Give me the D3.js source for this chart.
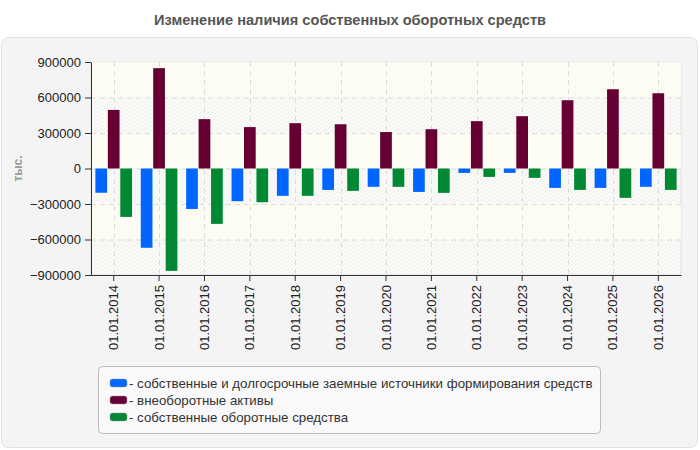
<!DOCTYPE html>
<html>
<head>
<meta charset="utf-8">
<script src="https://cdn.jsdelivr.net/npm/d3@7"></script>
<style>
  body { margin: 0; background: #fff; font-family: Arial, "Liberation Sans", sans-serif; }
  svg { display: block; }
</style>
</head>
<body>
<svg id="chart" width="700" height="450"></svg>
<script>
// data
var dates = ["01.01.2014", "01.01.2015", "01.01.2016", "01.01.2017", "01.01.2018", "01.01.2019", "01.01.2020",
    "01.01.2021", "01.01.2022", "01.01.2023", "01.01.2024", "01.01.2025", "01.01.2026"];
var sourcesVals = [-205000, -670000, -342000, -276000, -231000, -181000, -155000, -198000, -37000, -37000, -164000, -164000, -155000];
var fixedAssetsVals = [495000, 848000, 417000, 350000, 383000, 374000, 308000, 332000, 400000, 442000, 577000, 670000, 636000];
var workingCapVals = [-409000, -865000, -468000, -285000, -231000, -189000, -155000, -206000, -71000, -79000, -181000, -248000, -181000];
var seriesNames = ["- собственные и долгосрочные заемные источники формирования средств", "- внеоборотные активы", "- собственные оборотные средства"];
var yTicks = [900000, 600000, 300000, 0, -300000, -600000, -900000];

var colors = ["#0066ff", "#660033", "#008833"];
var series = [sourcesVals, fixedAssetsVals, workingCapVals];

var svg = d3.select("#chart");

// panel
svg.append("rect")
    .attr("x", 1.5).attr("y", 37.5)
    .attr("width", 696).attr("height", 410)
    .attr("rx", 7)
    .attr("fill", "#f4f4f4")
    .attr("stroke", "#e2e2e2");

// title
svg.append("text")
    .attr("x", 350).attr("y", 25)
    .attr("text-anchor", "middle")
    .attr("font-size", "14.6px")
    .attr("font-weight", "bold")
    .attr("fill", "#555")
    .text("Изменение наличия собственных оборотных средств");

var margin = {top: 62, left: 91};
var width = 590, height = 213;

var g = svg.append("g").attr("transform", "translate(" + margin.left + "," + margin.top + ")");

var x = d3.scaleBand().domain(dates).range([0, width]).paddingInner(0.16).paddingOuter(0.08);
var xs = d3.scaleBand().domain([0, 1, 2]).range([0, x.bandwidth()]).padding(0.06);
var y = d3.scaleLinear().domain([-900000, 900000]).range([height, 0]);

// hatched background
var defs = svg.append("defs");
var pat = defs.append("pattern")
    .attr("id", "hatch")
    .attr("patternUnits", "userSpaceOnUse")
    .attr("width", 4).attr("height", 4);
pat.append("rect").attr("width", 4).attr("height", 4).attr("fill", "#fbfbf8");
pat.append("path").attr("d", "M-1,1 l2,-2 M0,4 l4,-4 M3,5 l2,-2")
    .attr("stroke", "#ececec").attr("stroke-width", 1);

g.append("rect")
    .attr("width", width).attr("height", height)
    .attr("fill", "url(#hatch)")
    .attr("stroke", "#e0e0e0");

// alternating cream bands
for (var i = 0; i < yTicks.length - 1; i += 2) {
    g.append("rect")
        .attr("x", 0).attr("y", y(yTicks[i]))
        .attr("width", width).attr("height", y(yTicks[i + 1]) - y(yTicks[i]))
        .attr("fill", "#fdfdf3")
        .attr("opacity", 0.85);
}

// grid
g.selectAll(".hgrid").data(yTicks.slice(1, -1)).enter().append("line")
    .attr("x1", 0).attr("x2", width)
    .attr("y1", function(d) { return y(d) + 0.5; })
    .attr("y2", function(d) { return y(d) + 0.5; })
    .attr("stroke", "#dcdcdc")
    .attr("stroke-dasharray", "5,4");

g.selectAll(".vgrid").data(dates).enter().append("line")
    .attr("x1", function(d) { return Math.round(x(d) + x.bandwidth() / 2) + 0.5; })
    .attr("x2", function(d) { return Math.round(x(d) + x.bandwidth() / 2) + 0.5; })
    .attr("y1", 0).attr("y2", height)
    .attr("stroke", "#dcdcdc")
    .attr("stroke-dasharray", "5,4");

// bars
series.forEach(function(vals, si) {
    g.selectAll(".bar-" + si).data(vals).enter().append("rect")
        .attr("x", function(d, i) { return x(dates[i]) + xs(si); })
        .attr("width", xs.bandwidth())
        .attr("y", function(d) { return y(Math.max(0, d)); })
        .attr("height", function(d) { return Math.abs(y(d) - y(0)); })
        .attr("fill", colors[si]);
});

// axes
var yAxis = g.append("g")
    .call(d3.axisLeft(y).tickValues(yTicks).tickSize(6).tickSizeOuter(0).tickFormat(d3.format("d")));
yAxis.select(".domain").attr("stroke", "#333");
yAxis.selectAll(".tick line").attr("stroke", "#333");
yAxis.selectAll("text")
    .attr("font-size", "13px")
    .attr("font-family", "Arial, 'Liberation Sans', sans-serif")
    .attr("fill", "#222")
    .attr("x", -10);

var xAxis = g.append("g")
    .attr("transform", "translate(0," + height + ")")
    .call(d3.axisBottom(x).tickSize(6).tickSizeOuter(0));
xAxis.select(".domain").attr("stroke", "#333");
xAxis.selectAll(".tick line").attr("stroke", "#333");
xAxis.selectAll("text")
    .attr("font-size", "13px")
    .attr("font-family", "Arial, 'Liberation Sans', sans-serif")
    .attr("fill", "#222")
    .attr("text-anchor", "end")
    .attr("transform", "rotate(-90)")
    .attr("x", -10)
    .attr("y", 0)
    .attr("dy", "0.35em");

// y label
svg.append("text")
    .attr("transform", "translate(22," + (margin.top + y(0)) + ") rotate(-90)")
    .attr("text-anchor", "middle")
    .attr("font-size", "12px")
    .attr("font-weight", "bold")
    .attr("fill", "#999")
    .text("тыс.");

// legend
var legend = svg.append("g").attr("transform", "translate(98,366)");
legend.append("rect")
    .attr("x", 0.5).attr("y", 0.5)
    .attr("width", 502).attr("height", 67)
    .attr("rx", 4)
    .attr("fill", "#f9f9f9")
    .attr("stroke", "#bbb");

seriesNames.forEach(function(name, i) {
    legend.append("rect")
        .attr("x", 12).attr("y", 13 + i * 17)
        .attr("width", 17).attr("height", 8)
        .attr("rx", 2.5)
        .attr("fill", colors[i])
        .attr("stroke", "#999")
        .attr("stroke-width", 0.5);
    legend.append("text")
        .attr("x", 31).attr("y", 21.5 + i * 17)
        .attr("font-size", "13.3px")
        .attr("fill", "#333")
        .text(name);
});
</script>
</body>
</html>
